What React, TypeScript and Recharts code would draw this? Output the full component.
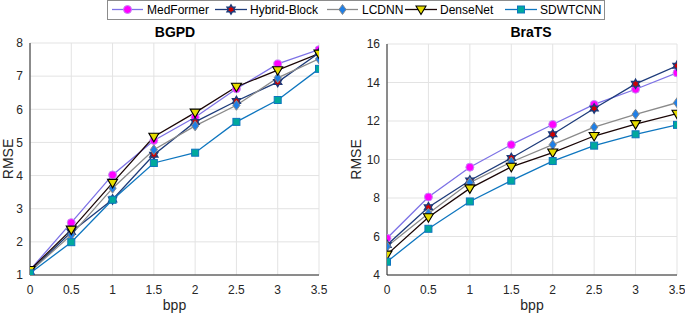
import React from 'react';
import { LineChart, Line, XAxis, YAxis, CartesianGrid, Label } from 'recharts';

const bpp = [0, 0.5, 1, 1.5, 2, 2.5, 3, 3.5];

// BGPD
const bgpdMedFormer = [1.15, 2.58, 4.02, 5.06, 5.76, 6.62, 7.37, 7.8];
const bgpdHybrid = [1.1, 2.3, 3.28, 4.63, 5.62, 6.25, 6.82, 7.7];
const bgpdLCDNN = [1.1, 2.21, 3.62, 4.78, 5.5, 6.12, 6.95, 7.52];
const bgpdDenseNet = [1.15, 2.37, 3.78, 5.17, 5.9, 6.68, 7.18, 7.68];
const bgpdSDWTCNN = [1.05, 1.99, 3.27, 4.38, 4.69, 5.62, 6.28, 7.22];

// BraTS
const bratsMedFormer = [5.91, 8.05, 9.6, 10.77, 11.82, 12.86, 13.65, 14.5];
const bratsHybrid = [5.56, 7.52, 8.91, 10.08, 11.31, 12.65, 13.93, 14.87];
const bratsLCDNN = [5.48, 7.2, 8.8, 9.87, 10.77, 11.68, 12.35, 12.95];
const bratsDenseNet = [5.06, 7.0, 8.5, 9.62, 10.36, 11.22, 11.84, 12.38];
const bratsSDWTCNN = [4.69, 6.4, 7.82, 8.9, 9.92, 10.72, 11.31, 11.8];

const bgpdTicks = [1, 2, 3, 4, 5, 6, 7, 8];
const bratsTicks = [4, 6, 8, 10, 12, 14, 16];

const seriesNames = ['MedFormer', 'Hybrid-Block', 'LCDNN', 'DenseNet', 'SDWTCNN'];
const seriesKeys = ['med', 'hyb', 'lcd', 'dense', 'sdw'];

type Kind = 'circle' | 'hexagram' | 'diamond' | 'triangle' | 'square';

const styles: { line: string; kind: Kind }[] = [
  { line: '#7d72e6', kind: 'circle' },
  { line: '#1d3b7a', kind: 'hexagram' },
  { line: '#8a8a8a', kind: 'diamond' },
  { line: '#1a0505', kind: 'triangle' },
  { line: '#0e76bf', kind: 'square' },
];

const font = '"Liberation Sans", Arial, sans-serif';

function Marker({ kind, cx, cy }: { kind: Kind; cx: number; cy: number }) {
  if (kind === 'circle') {
    return <circle cx={cx} cy={cy} r={4} fill="#ff00ff" stroke="#c58cf5" strokeWidth={1} />;
  }
  if (kind === 'hexagram') {
    const R = 4.6;
    const r = R / Math.sqrt(3);
    const pts: string[] = [];
    for (let i = 0; i < 12; i++) {
      const a = (-90 + i * 30) * (Math.PI / 180);
      const rad = i % 2 === 0 ? R : r;
      pts.push(`${cx + rad * Math.cos(a)},${cy + rad * Math.sin(a)}`);
    }
    return <polygon points={pts.join(' ')} fill="#d00000" stroke="#1d3b7a" strokeWidth={1.4} />;
  }
  if (kind === 'diamond') {
    return (
      <polygon
        points={`${cx},${cy - 5} ${cx + 3.6},${cy} ${cx},${cy + 5} ${cx - 3.6},${cy}`}
        fill="#1f7fe6"
        stroke="#8a8a8a"
        strokeWidth={1}
      />
    );
  }
  if (kind === 'triangle') {
    return (
      <polygon
        points={`${cx - 5},${cy - 3.5} ${cx + 5},${cy - 3.5} ${cx},${cy + 5}`}
        fill="#e6dc00"
        stroke="#000"
        strokeWidth={1.1}
      />
    );
  }
  return <rect x={cx - 3.5} y={cy - 3.5} width={7} height={7} fill="#00a99d" stroke="#0e76bf" strokeWidth={1} />;
}

function buildRows(series: number[][]) {
  return bpp.map((x, i) => {
    const row: Record<string, number> = { bpp: x };
    seriesKeys.forEach((k, j) => {
      row[k] = series[j][i];
    });
    return row;
  });
}

const bgpdData = buildRows([bgpdMedFormer, bgpdHybrid, bgpdLCDNN, bgpdDenseNet, bgpdSDWTCNN]);
const bratsData = buildRows([bratsMedFormer, bratsHybrid, bratsLCDNN, bratsDenseNet, bratsSDWTCNN]);

const tickStyle = { fontSize: 12, fill: '#262626', fontFamily: font };

function YLabel(labelX: number) {
  return (props: any) => {
    const vb = props.viewBox || {};
    const cy = vb.y + vb.height / 2;
    return (
      <text
        x={labelX}
        y={cy}
        transform={`rotate(-90, ${labelX}, ${cy})`}
        textAnchor="middle"
        dominantBaseline="central"
        fontSize={14}
        fill="#262626"
        fontFamily={font}
      >
        RMSE
      </text>
    );
  };
}

interface PanelProps {
  data: Record<string, number>[];
  ticks: number[];
  width: number;
  yAxisWidth: number;
  marginRight: number;
  marginTop: number;
  labelX: number;
}

function Panel({ data, ticks, width, yAxisWidth, marginRight, marginTop, labelX }: PanelProps) {
  return (
    <LineChart
      width={width}
      height={316}
      data={data}
      margin={{ top: marginTop, right: marginRight, bottom: 1, left: 0 }}
    >
      <CartesianGrid stroke="#e3e3e3" strokeWidth={1} />
      <XAxis
        dataKey="bpp"
        type="number"
        domain={[0, 3.5]}
        ticks={bpp}
        interval={0}
        height={40}
        tickLine={false}
        tickSize={0}
        tickMargin={10}
        tick={tickStyle}
        stroke="#262626"
        allowDataOverflow
      >
        <Label
          value="bpp"
          position="insideBottom"
          offset={5}
          style={{ fontSize: 14, fill: '#262626', fontFamily: font }}
        />
      </XAxis>
      <YAxis
        type="number"
        domain={[ticks[0], ticks[ticks.length - 1]]}
        ticks={ticks}
        interval={0}
        width={yAxisWidth}
        tickLine={false}
        tickSize={0}
        tickMargin={7}
        tick={tickStyle}
        stroke="#262626"
        allowDataOverflow
      >
        <Label content={YLabel(labelX)} />
      </YAxis>
      {seriesKeys.map((k, j) => (
        <Line
          key={k}
          dataKey={k}
          type="linear"
          stroke={styles[j].line}
          strokeWidth={1.3}
          isAnimationActive={false}
          dot={(p: any) => <Marker key={`${k}-${p.index}`} kind={styles[j].kind} cx={p.cx} cy={p.cy} />}
          activeDot={false}
        />
      ))}
    </LineChart>
  );
}

const legendLines = [
  [112, 143, 147],
  [215, 247, 250],
  [327, 358, 362],
  [405, 437, 440],
  [505, 537, 540],
];

function LegendBox() {
  return (
    <svg width={685} height={22} style={{ position: 'absolute', left: 0, top: 0 }}>
      <rect x={107.5} y={0.5} width={497} height={19} fill="#fff" stroke="#8c8c8c" strokeWidth={1} />
      {seriesNames.map((name, j) => {
        const [x1, x2, tx] = legendLines[j];
        return (
          <g key={name}>
            <line x1={x1} x2={x2} y1={9.5} y2={9.5} stroke={styles[j].line} strokeWidth={1.3} />
            <Marker kind={styles[j].kind} cx={(x1 + x2) / 2} cy={9.5} />
            <text x={tx} y={14} fontSize={12} fill="#000" fontFamily={font}>
              {name}
            </text>
          </g>
        );
      })}
    </svg>
  );
}

const titleStyle: React.CSSProperties = {
  position: 'absolute',
  top: 24,
  width: 120,
  textAlign: 'center',
  fontFamily: font,
  fontWeight: 'bold',
  fontSize: 14,
  lineHeight: '16px',
  color: '#000',
};

export default function App() {
  return (
    <div
      style={{
        position: 'absolute',
        left: 0,
        top: 0,
        width: 685,
        height: 316,
        background: '#fff',
        overflow: 'hidden',
      }}
    >
      <div style={{ position: 'absolute', left: 0, top: 0 }}>
        <Panel
          data={bgpdData}
          ticks={bgpdTicks}
          width={340}
          yAxisWidth={30}
          marginRight={21}
          marginTop={43}
          labelX={8}
        />
      </div>
      <div style={{ position: 'absolute', left: 340, top: 0 }}>
        <Panel
          data={bratsData}
          ticks={bratsTicks}
          width={345}
          yAxisWidth={47}
          marginRight={8}
          marginTop={44}
          labelX={16}
        />
      </div>
      <div style={{ ...titleStyle, left: 115 }}>BGPD</div>
      <div style={{ ...titleStyle, left: 471 }}>BraTS</div>
      <LegendBox />
    </div>
  );
}
